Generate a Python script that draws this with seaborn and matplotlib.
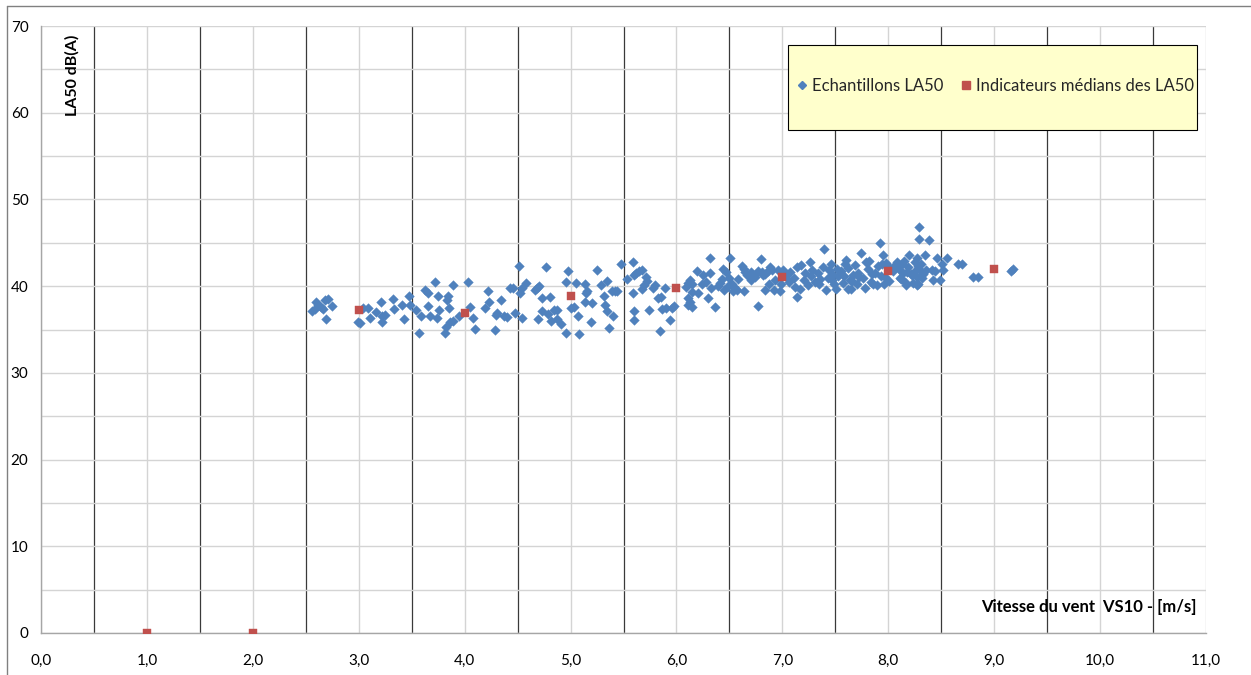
import numpy as np
import pandas as pd
import matplotlib
matplotlib.use("Agg")
import matplotlib.pyplot as plt
import seaborn as sns
from matplotlib.ticker import MultipleLocator, FuncFormatter
from matplotlib.lines import Line2D
from matplotlib.patches import Rectangle

# ---------------- data ----------------
sample_x = [
    2.556, 2.59, 2.60, 2.66, 2.68, 2.71, 2.69, 2.75, 2.62, 2.64,
    2.99, 3.01, 3.04, 3.09, 3.11, 3.16, 3.21, 3.22, 3.22, 3.25, 3.32, 3.33, 3.41, 3.43,
    3.47, 3.48, 3.54, 3.57, 3.59, 3.63, 3.65, 3.65, 3.67, 3.72, 3.74, 3.75, 3.76, 3.81,
    3.82, 3.83, 3.84, 3.85, 3.86, 3.89, 3.89, 3.95,
    4.03, 4.05, 4.08, 4.10, 4.19, 4.22, 4.23, 4.29, 4.31, 4.30, 4.34, 4.37, 4.40, 4.43,
    4.46, 4.48, 4.51, 4.52, 4.54, 4.54, 4.58, 4.66, 4.68, 4.69, 4.70, 4.73, 4.73, 4.77,
    4.79, 4.81, 4.82, 4.84, 4.87, 4.87, 4.91, 4.96, 4.96, 4.98, 5.00, 5.03, 5.05, 5.07,
    5.08, 5.14, 5.15, 5.16, 5.14, 5.19, 5.20, 5.25, 5.29, 5.32, 5.34, 5.33, 5.34, 5.36,
    5.39, 5.40,
    5.48, 5.59, 5.53, 5.62, 5.65, 5.60, 5.67, 5.42, 5.44, 5.59, 5.60, 5.60, 5.67, 5.69,
    5.71, 5.72, 5.74, 5.78, 5.80, 5.84, 5.83, 5.85, 5.86, 5.89, 5.90, 5.94, 5.96, 5.98,
    6.09, 6.11, 6.13, 6.15, 6.11, 6.13, 6.11, 6.15, 6.15, 6.19, 6.20, 6.25, 6.24, 6.28,
    6.30, 6.32, 6.32, 6.33, 6.36, 6.39, 6.41, 6.43, 6.44, 6.45, 6.47, 6.49, 6.51, 6.50,
    6.52, 6.53, 6.55, 6.57, 6.58, 6.62, 6.64, 6.65, 6.64, 6.67, 6.70, 6.70, 6.74, 6.77,
    6.77, 6.80, 6.81, 6.82, 6.84, 6.86,
    6.84, 6.87, 6.88, 6.90, 6.92, 6.93, 6.98, 6.99, 7.01, 7.06, 7.07, 7.11, 7.14, 7.14,
    7.17, 7.18, 7.20, 7.21, 7.24, 7.26, 7.28, 7.31, 7.34, 7.35, 7.38, 7.39, 7.41, 7.43,
    7.46, 7.48, 7.49, 7.51, 7.52, 7.55, 7.59, 7.60, 7.62, 7.64, 7.65, 7.67, 7.71, 7.74,
    7.76, 7.79, 7.81, 7.84, 7.87, 7.89, 7.92, 7.94, 7.95, 7.97, 8.08, 8.10, 8.11, 8.14,
    8.17, 8.19, 8.20, 8.22, 8.25, 8.26, 8.29, 8.29, 8.31, 8.32, 8.28, 8.16,
    8.38, 8.35, 8.27, 8.46, 8.55, 8.51, 8.66, 8.70, 8.28, 8.31, 8.36, 8.41, 8.44, 8.52,
    8.42, 8.49, 8.27, 8.27, 8.80, 8.85, 9.16, 9.18,
    7.53, 7.57, 7.62, 7.66, 7.69, 7.72, 7.78, 7.82, 7.86, 7.90, 7.93, 7.98, 8.01, 8.04,
    8.06, 8.12, 8.15, 8.18, 8.23, 8.33, 7.44, 7.36, 7.27, 7.12, 7.03, 6.96, 7.70, 7.85,
    8.02, 8.13, 7.58, 7.47, 7.96, 8.21,
]
sample_y = [
    37.1, 37.4, 38.2, 37.4, 38.4, 38.5, 36.2, 37.7, 37.8, 37.6,
    35.9, 35.7, 37.5, 37.5, 36.3, 37.0, 38.2, 36.5, 35.9, 36.7, 38.5, 37.4, 37.8, 36.2,
    38.9, 37.8, 37.3, 34.6, 36.5, 39.5, 39.2, 37.7, 36.5, 40.5, 36.3, 38.9, 37.2, 34.6,
    35.3, 38.4, 38.9, 37.5, 35.9, 40.1, 36.0, 36.5,
    40.5, 37.6, 36.3, 35.1, 37.5, 39.4, 38.2, 34.9, 36.9, 36.7, 38.4, 36.5, 36.4, 39.8,
    39.8, 36.9, 42.3, 39.2, 36.3, 39.8, 40.4, 39.6, 39.8, 36.2, 40.0, 38.6, 37.1, 42.2,
    36.8, 38.8, 36.0, 37.3, 37.3, 36.2, 35.6, 34.6, 40.5, 41.7, 37.5, 37.6, 40.4, 36.6,
    34.5, 40.3, 39.2, 39.4, 38.2, 35.9, 38.0, 41.9, 40.1, 38.9, 40.6, 37.8, 37.1, 35.2,
    39.4, 36.6,
    42.6, 42.8, 40.8, 41.5, 41.8, 41.3, 41.9, 39.4, 39.4, 39.2, 37.1, 36.1, 39.7, 40.1,
    41.1, 40.6, 37.3, 39.8, 40.1, 34.8, 38.6, 38.8, 37.4, 39.8, 37.5, 36.1, 37.5, 37.7,
    39.9, 40.4, 40.7, 40.2, 38.6, 38.2, 37.8, 37.6, 39.3, 41.8, 39.2, 41.3, 40.3, 40.5,
    38.6, 41.5, 43.3, 39.8, 37.6, 40.0, 40.4, 40.8, 42.0, 39.6, 41.6, 40.0, 43.3, 40.9,
    40.3, 39.4, 39.8, 39.6, 40.8, 42.3, 42.0, 41.6, 39.4, 41.3, 40.7, 41.6, 41.1, 41.8,
    37.7, 43.1, 41.6, 41.3, 41.4, 41.8,
    39.6, 40.3, 42.2, 41.9, 39.6, 40.7, 39.4, 40.3, 41.9, 40.5, 41.6, 40.9, 38.7, 42.2,
    39.7, 42.4, 40.7, 41.5, 40.1, 42.8, 41.9, 40.5, 41.5, 40.3, 42.2, 44.3, 39.6, 40.9,
    42.6, 41.3, 40.3, 39.7, 42.0, 41.7, 42.6, 43.0, 39.7, 40.7, 39.7, 41.3, 41.5, 43.8,
    40.9, 42.8, 42.0, 40.5, 41.5, 40.1, 45.0, 42.6, 43.6, 41.1, 42.8, 42.0, 40.9, 41.5,
    40.1, 42.2, 43.6, 41.3, 42.8, 41.9, 46.8, 45.4, 42.6, 40.9, 40.3, 40.5,
    45.3, 43.6, 43.2, 43.2, 43.3, 42.5, 42.6, 42.5, 42.3, 41.7, 41.9, 41.9, 41.7, 41.9,
    40.7, 40.7, 41.1, 40.1, 41.1, 41.0, 41.8, 42.0,
    41.2, 40.4, 42.1, 40.6, 42.4, 41.0, 39.8, 42.9, 40.2, 42.3, 41.2, 42.7, 40.6, 41.8,
    42.4, 40.8, 42.9, 41.6, 40.4, 41.4, 41.9, 40.8, 41.2, 39.9, 41.2, 41.9, 40.3, 41.4,
    42.1, 42.5, 41.2, 40.7, 40.2, 41.4,
]
median_x = [1, 2, 3, 4, 5, 6, 7, 8, 9]
median_y = [0.0, 0.0, 37.2, 36.9, 38.9, 39.8, 41.0, 41.7, 42.0]

label_samples = "Echantillons LA50"
label_medians = "Indicateurs médians des LA50"
ylabel_text = "LA50 dB(A)"
xlabel_text = "Vitesse du vent  VS10 - [m/s]"

df_s = pd.DataFrame({"x": sample_x, "y": sample_y})
df_m = pd.DataFrame({"x": median_x, "y": median_y})

# ---------------- styling ----------------
sns.set_theme(style="white")
plt.rcParams["font.family"] = ["Lato", "DejaVu Sans"]

BLUE = "#4F81BD"
RED = "#C0504D"

fig = plt.figure(figsize=(12.51, 6.75), dpi=100)
ax = fig.add_axes([41 / 1251, 1 - 633 / 675, 1165 / 1251, 607 / 675])

sns.scatterplot(data=df_s, x="x", y="y", ax=ax, marker="D", s=24, color=BLUE,
                edgecolor=BLUE, linewidth=0.3, zorder=4, legend=False)
sns.scatterplot(data=df_m, x="x", y="y", ax=ax, marker="s", s=40, color=RED,
                edgecolor=RED, linewidth=0.3, zorder=5, legend=False)

ax.set_xlim(0, 11)
ax.set_ylim(0, 70)
ax.xaxis.set_major_locator(MultipleLocator(1))
ax.xaxis.set_minor_locator(MultipleLocator(0.5))
ax.yaxis.set_major_locator(MultipleLocator(10))
ax.yaxis.set_minor_locator(MultipleLocator(5))
ax.xaxis.set_major_formatter(FuncFormatter(lambda v, p: f"{v:.1f}".replace(".", ",")))
ax.yaxis.set_major_formatter(FuncFormatter(lambda v, p: f"{v:.0f}"))

ax.xaxis.grid(True, which="major", color="#D4D4D4", linewidth=1.0)
ax.xaxis.grid(True, which="minor", color="#3A3A3A", linewidth=0.9)
ax.yaxis.grid(True, which="both", color="#D4D4D4", linewidth=1.0)
ax.set_axisbelow(True)

for side in ["top", "right"]:
    ax.spines[side].set_visible(False)
for side in ["left", "bottom"]:
    ax.spines[side].set_color("#A6A6A6")
    ax.spines[side].set_linewidth(1.0)

ax.tick_params(axis="both", which="major", direction="out", length=5, width=1,
               color="#A6A6A6", labelsize=11, labelcolor="#000000")
ax.tick_params(axis="both", which="minor", length=0)
ax.tick_params(axis="x", pad=10)
ax.tick_params(axis="y", pad=4)
ax.set_xlabel("")
ax.set_ylabel("")

# axis titles placed inside the plot area
ax.text(0.027, 0.985, ylabel_text, transform=ax.transAxes, rotation=90,
        ha="center", va="top", fontsize=11.5, fontweight="bold", color="black")
ax.text(0.992, 0.043, xlabel_text, transform=ax.transAxes,
        ha="right", va="center", fontsize=12, fontweight="bold", color="black")

# legend box
box = Rectangle((0.641, 0.829), 0.351, 0.140, transform=ax.transAxes,
                facecolor="#FFFFCC", edgecolor="black", linewidth=0.8, zorder=6)
ax.add_patch(box)
handles = [
    Line2D([], [], linestyle="none", marker="D", markersize=4.5, color=BLUE),
    Line2D([], [], linestyle="none", marker="s", markersize=5.5, color=RED),
]
leg = ax.legend(handles, [label_samples, label_medians], ncol=2, frameon=False,
                loc="center", bbox_to_anchor=(0.818, 0.901), fontsize=12,
                handletextpad=0.1, columnspacing=0.9, handlelength=1.0)
leg.set_zorder(7)

# outer chart border (left and top visible)
fig.add_artist(Line2D([7 / 1251, 7 / 1251], [0, 1 - 6 / 675], transform=fig.transFigure,
                      color="#808080", linewidth=1.0))
fig.add_artist(Line2D([7 / 1251, 1], [1 - 6 / 675, 1 - 6 / 675], transform=fig.transFigure,
                      color="#808080", linewidth=1.0))

fig.savefig("out.png", dpi=100, facecolor="white")
